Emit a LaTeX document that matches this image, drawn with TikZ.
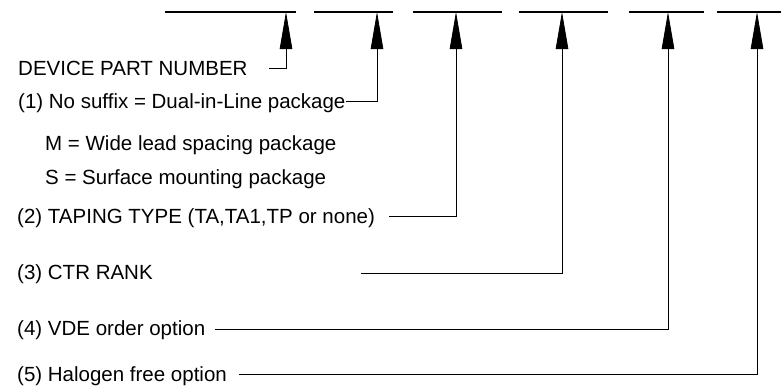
\documentclass[tikz,border=0pt]{standalone}
\usepackage{fontspec}
\setmainfont{Liberation Sans}
\usetikzlibrary{arrows.meta}
\begin{document}
\begin{tikzpicture}[x=1bp,y=-1bp,
  lbl/.style={anchor=base west,inner sep=0pt,font=\fontsize{20.5bp}{24bp}\selectfont},
  topline/.style={line width=1.1bp},
  conn/.style={line width=0.8bp,-{Triangle[length=37bp,width=12.5bp]}}]
\useasboundingbox (0,0) rectangle (781,386);
% top blanks
\coordinate (s1a) at (165,12); \coordinate (s1b) at (296,12);
\coordinate (s2a) at (314,12); \coordinate (s2b) at (393,12);
\coordinate (s3a) at (413,12); \coordinate (s3b) at (502,12);
\coordinate (s4a) at (519,12); \coordinate (s4b) at (608,12);
\coordinate (s5a) at (629,12); \coordinate (s5b) at (704,12);
\coordinate (s6a) at (717,12); \coordinate (s6b) at (781,12);
\foreach \i in {1,...,6} \draw[topline] (s\i a) -- (s\i b);
% arrow tips
\coordinate (t1) at (286,12);
\coordinate (t2) at (377,12);
\coordinate (t3) at (456,12);
\coordinate (t4) at (562,12);
\coordinate (t5) at (668,12);
\coordinate (t6) at (757,12);
% labels
\node[lbl] (dev) at (18,75) {DEVICE PART NUMBER};
\node[lbl] (l1) at (18,108) {(1) No suffix = Dual-in-Line package};
\node[lbl] (l1m) at (45,150) {M = Wide lead spacing package};
\node[lbl] (l1s) at (45,184) {S = Surface mounting package};
\node[lbl] (l2) at (17,223) {(2) TAPING TYPE (TA,TA1,TP or none)};
\node[lbl] (l3) at (17,279) {(3) CTR RANK};
\node[lbl] (l4) at (17,335) {(4) VDE order option};
\node[lbl] (l5) at (17,381) {(5) Halogen free option};
% connector starts
\coordinate (c0) at (269,68);
\coordinate (c3) at (361,273);
\coordinate (c4) at (215,329);
\coordinate (c5) at (239,374);
\draw[conn] (c0) -| (t1);
\draw[conn] ([yshift=7bp]l1.base east) -| (t2);
\draw[conn] ([xshift=14bp,yshift=7bp]l2.base east) -| (t3);
\draw[conn] (c3) -| (t4);
\draw[conn] (c4) -| (t5);
\draw[conn] (c5) -| (t6);
\end{tikzpicture}
\end{document}
